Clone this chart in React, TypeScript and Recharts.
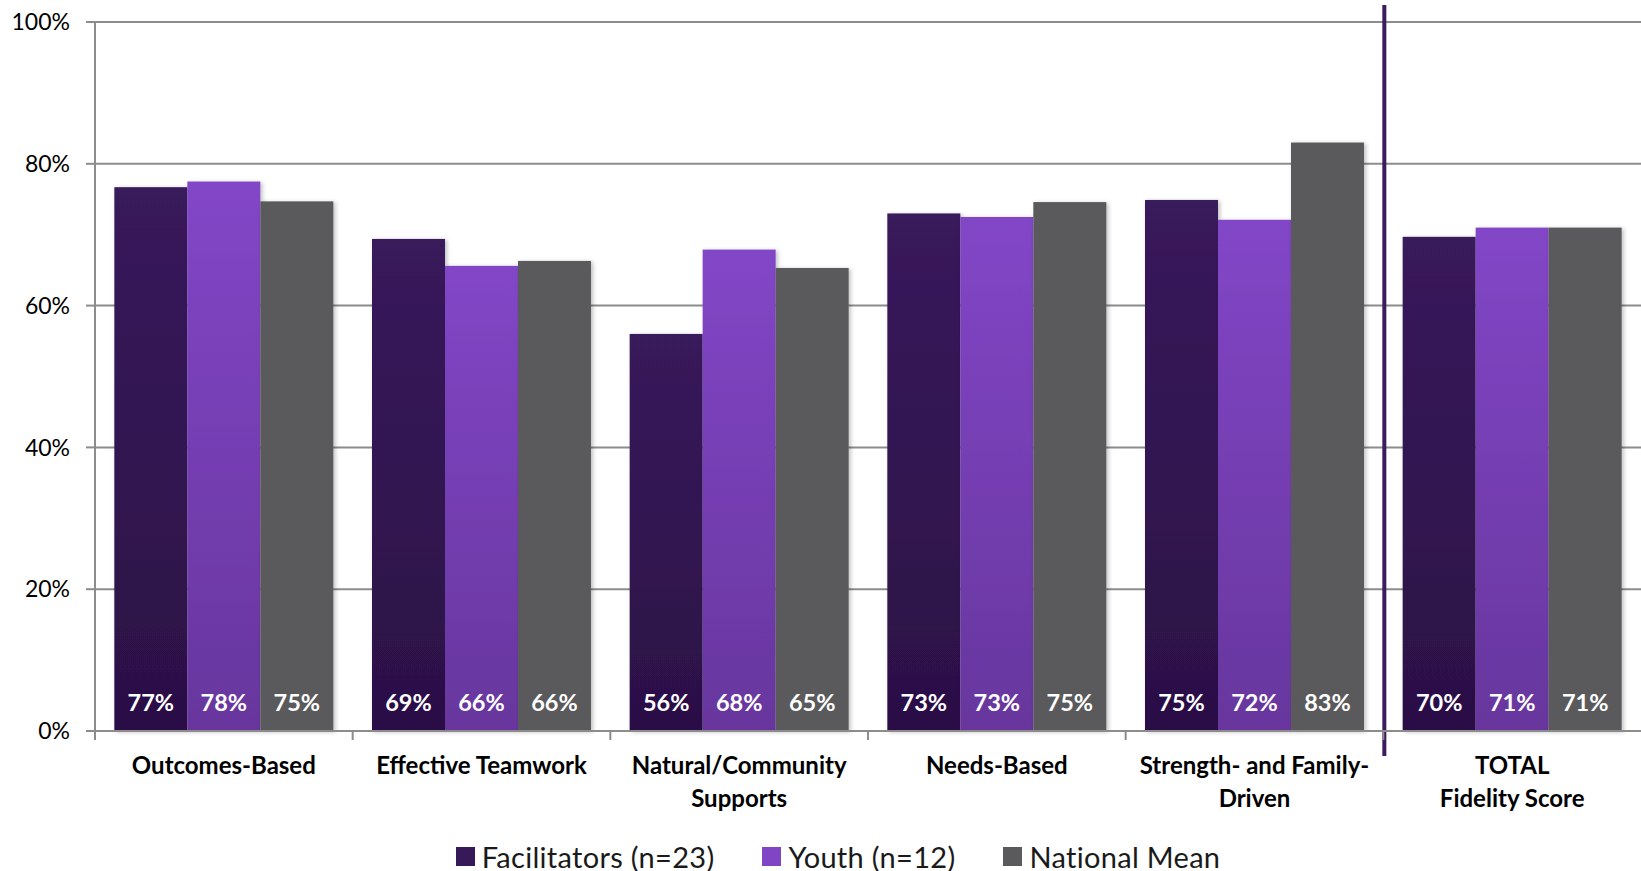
import React from 'react';
import {
  BarChart,
  Bar,
  XAxis,
  YAxis,
  CartesianGrid,
  Legend,
  LabelList,
  ReferenceLine,
} from 'recharts';

const categories = [
  'Outcomes-Based',
  'Effective Teamwork',
  'Natural/Community\nSupports',
  'Needs-Based',
  'Strength- and Family-\nDriven',
  'TOTAL\nFidelity Score',
];
const facilitators = [76.7, 69.4, 56.0, 73.0, 74.9, 69.7];
const youth = [77.5, 65.6, 67.9, 72.5, 72.1, 71.0];
const nationalMean = [74.7, 66.3, 65.3, 74.6, 83.0, 71.0];
const yTicks = [0, 20, 40, 60, 80, 100];
const seriesNames = ['Facilitators (n=23)', 'Youth (n=12)', 'National Mean'];
const separatorBefore = 5; // index of the TOTAL group

const FONT = 'Lato, "Open Sans", sans-serif';
const GRID = '#8c8c8c';

const data = categories.map((name, i) => ({
  name,
  fac: facilitators[i],
  youth: youth[i],
  nat: nationalMean[i],
}));

const legendItems = [
  { label: seriesNames[0], color: '#361958' },
  { label: seriesNames[1], color: '#8045c4' },
  { label: seriesNames[2], color: '#5a5a5c' },
];

const CategoryTick = (props: any) => {
  const { x, y, payload } = props;
  const lines = String(payload.value).split('\n');
  const half = payload.offset ?? 0;
  const axisY = y - 8;
  return (
    <g>
      <line x1={x - half} x2={x - half} y1={axisY} y2={axisY + 9} stroke={GRID} strokeWidth={2} />
      {lines.map((l, i) => (
        <text
          key={i}
          x={x}
          y={axisY + 43 + i * 33}
          textAnchor="middle"
          fontFamily={FONT}
          fontWeight={700}
          fontSize={24}
          fill="#000"
        >
          {l}
        </text>
      ))}
    </g>
  );
};

const ValueLabel = (props: any) => {
  const vb = props.viewBox || props;
  const { x, y, width, height } = vb;
  return (
    <text
      x={x + width / 2}
      y={y + height - 20}
      textAnchor="middle"
      fontFamily={FONT}
      fontWeight={700}
      fontSize={23.5}
      fill="#fff"
    >
      {Math.round(Number(props.value))}%
    </text>
  );
};

const barShape = (fill: string) => (props: any) => {
  const { x, y, width, height } = props;
  return <rect x={x} y={y} width={width} height={height} fill={fill} filter="url(#barShadow)" />;
};

// vertical separator: drawn on the category axis at the TOTAL band centre, shifted left half a band
const SeparatorShape = (p: any) => {
  const left = p.viewBox?.x ?? 95;
  const band = (p.x1 - left) / (separatorBefore + 0.5);
  const x = p.x1 - band / 2 + 1;
  return (
    <line
      x1={x}
      x2={x}
      y1={Math.min(p.y1, p.y2) - 17}
      y2={Math.max(p.y1, p.y2) + 25}
      stroke="#3b1c5e"
      strokeWidth={4}
    />
  );
};

const LegendContent = () => (
  <div
    style={{
      height: 50,
      display: 'flex',
      justifyContent: 'center',
      alignItems: 'center',
      paddingLeft: 35,
      paddingTop: 20,
      boxSizing: 'border-box',
      fontFamily: FONT,
      fontSize: 29,
      letterSpacing: 0.3,
      color: '#1a1a1a',
    }}
  >
    {legendItems.map((it) => (
      <div key={it.label} style={{ display: 'flex', alignItems: 'center', margin: '0 24px' }}>
        <span style={{ width: 19, height: 19, background: it.color, marginRight: 7, display: 'inline-block' }} />
        <span>{it.label}</span>
      </div>
    ))}
  </div>
);

export default function App() {
  return (
    <div style={{ position: 'absolute', left: 0, top: 0, background: '#fff' }}>
      <BarChart
        width={1641}
        height={871}
        data={data}
        margin={{ top: 22, right: 0, left: 0, bottom: 0 }}
        barCategoryGap="7.5%"
        barGap={0}
      >
        <defs>
          <linearGradient id="gFac" x1="0" y1="0" x2="0" y2="1">
            <stop offset="0%" stopColor="#381a5b" />
            <stop offset="100%" stopColor="#2b1046" />
          </linearGradient>
          <linearGradient id="gYouth" x1="0" y1="0" x2="0" y2="1">
            <stop offset="0%" stopColor="#8246c7" />
            <stop offset="100%" stopColor="#67369d" />
          </linearGradient>
          <filter id="barShadow" x="-10%" y="-10%" width="130%" height="130%">
            <feDropShadow dx="2" dy="1" stdDeviation="2" floodColor="#000" floodOpacity="0.25" />
          </filter>
        </defs>
        <CartesianGrid vertical={false} stroke={GRID} strokeWidth={2} />
        <XAxis
          dataKey="name"
          interval={0}
          height={90}
          tickLine={false}
          axisLine={{ stroke: GRID, strokeWidth: 2 }}
          tick={<CategoryTick />}
        />
        <YAxis
          width={95}
          domain={[0, 100]}
          ticks={yTicks}
          tickFormatter={(v) => `${v}%`}
          tickSize={9}
          tickMargin={16}
          tickLine={{ stroke: GRID, strokeWidth: 2 }}
          axisLine={{ stroke: GRID, strokeWidth: 2 }}
          tick={{ fontFamily: FONT, fontSize: 23, fill: '#000' }}
        />
        <Legend verticalAlign="bottom" content={<LegendContent />} />
        <Bar dataKey="fac" name={seriesNames[0]} fill="url(#gFac)" shape={barShape('url(#gFac)')} isAnimationActive={false}>
          <LabelList dataKey="fac" content={<ValueLabel />} />
        </Bar>
        <Bar dataKey="youth" name={seriesNames[1]} fill="url(#gYouth)" shape={barShape('url(#gYouth)')} isAnimationActive={false}>
          <LabelList dataKey="youth" content={<ValueLabel />} />
        </Bar>
        <Bar dataKey="nat" name={seriesNames[2]} fill="#5a5a5c" shape={barShape('#5a5a5c')} isAnimationActive={false}>
          <LabelList dataKey="nat" content={<ValueLabel />} />
        </Bar>
        <ReferenceLine x={categories[separatorBefore]} shape={SeparatorShape} />
      </BarChart>
    </div>
  );
}
